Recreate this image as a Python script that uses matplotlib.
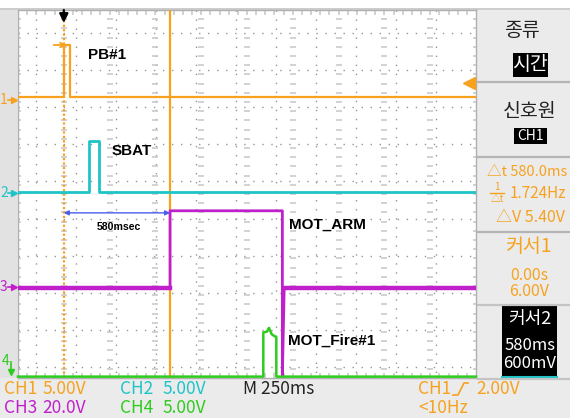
import matplotlib
matplotlib.use('Agg')
import matplotlib.pyplot as plt
from matplotlib.patches import Rectangle
from matplotlib.lines import Line2D
import numpy as np

# ---------------- data (time in s, volts) ----------------
ch1_t = [-0.25, 0.0, 0.0, 0.033, 0.033, 2.25]
ch1_v = [0.0, 0.0, 5.65, 5.65, 0.0, 0.0]
ch2_t = [-0.25, 0.137, 0.137, 0.19, 0.19, 2.25]
ch2_v = [0.0, 0.0, 5.6, 5.6, 0.0, 0.0]
ch3_t = [-0.25, 0.58, 0.58, 1.193, 1.193, 1.203, 2.25]
ch3_v = [0.0, 0.0, 33.5, 33.5, -38.5, 0.0, 0.0]
ch4_t = [-0.25, 1.089, 1.089, 1.11, 1.12, 1.135, 1.15, 1.16, 1.16, 2.25]
ch4_v = [0.0, 0.0, 4.8, 4.9, 5.3, 4.6, 4.4, 4.3, 0.0, 0.0]

volts_per_div = [5.0, 5.0, 20.0, 5.0]
offsets_div = [2.11, 0.04, -2.04, -3.97]
cursor_t = [0.0, 0.58]
labels = ["PB#1", "SBAT", "MOT_ARM", "MOT_Fire#1"]

ORANGE = '#f7a21e'
CYAN = '#1ec4c8'
MAGENTA = '#c020cc'
GREEN = '#2ecc1e'
BG = '#ebebeb'

W, H = 570, 418
fig = plt.figure(figsize=(5.7, 4.18), dpi=100)
fig.patch.set_facecolor(BG)

def fx(px):
    return px / W

def fy(py):
    return 1 - py / H

# top white strip
fig.add_artist(Rectangle((0, fy(8)), 1, 8 / H, transform=fig.transFigure,
                         facecolor='white', edgecolor='none', zorder=0))
fig.add_artist(Line2D([0, 1], [fy(8.5), fy(8.5)], transform=fig.transFigure,
                      color='#c8c8c8', lw=1.2, zorder=1))
# left grey strip
fig.add_artist(Rectangle((0, fy(378)), 17 / W, 370 / H, transform=fig.transFigure,
                         facecolor='#e2e2e2', edgecolor='none', zorder=0))

pos = [fx(18), fy(378), 458 / W, 368 / H]

# ---- grid overlay axes (pixel units) ----
gax = fig.add_axes(pos, zorder=1)
gax.set_facecolor('white')
gax.set_xlim(0, 458)
gax.set_ylim(368, 0)
gax.set_xticks([]); gax.set_yticks([])
for s in gax.spines.values():
    s.set_color('#b0b0b0'); s.set_linewidth(1)
for xc in np.arange(18, 458, 40):
    gax.plot([xc, xc], [0, 368], color='#959595', lw=1.0, ls=(0, (1, 5.5)), zorder=2)
for yc in np.arange(23, 368, 37.1):
    gax.plot([0, 458], [yc, yc], color='#959595', lw=1.0, ls=(0, (1, 5.5)), zorder=2)
div = 458 / 10
ys_small = np.arange(0, 368, 9.2)
for k in range(0, 11):
    gax.plot(np.full_like(ys_small, k * div), ys_small, ls='none', marker='_',
             ms=4, mew=1.1, color='#c6c6c6', zorder=2)
xs_small = np.arange(0, 458, 9.16)
for yk in [2, 366]:
    gax.plot(xs_small, np.full_like(xs_small, yk), ls='none',
             marker='|', ms=4, mew=1.1, color='#c6c6c6', zorder=2)

# ---- signal axes ----
ax = fig.add_axes(pos, zorder=2)
ax.patch.set_alpha(0)
ax.set_xlim(-0.25, 2.25)
ax.set_ylim(-4, 4)
ax.set_xticks([]); ax.set_yticks([])
for s in ax.spines.values():
    s.set_visible(False)

def trace(t, v, ch):
    return [offsets_div[ch] + vv / volts_per_div[ch] for vv in v]

ax.plot(ch1_t, trace(ch1_t, ch1_v, 0), color=ORANGE, lw=1.6, zorder=5)
ax.plot(ch2_t, trace(ch2_t, ch2_v, 1), color=CYAN, lw=2.0, zorder=5)
ax.plot(ch3_t, trace(ch3_t, ch3_v, 2), color=MAGENTA, lw=2.0, zorder=5)
ax.plot(ch3_t[:2], trace(ch3_t[:2], ch3_v[:2], 2), color=MAGENTA, lw=3.2, zorder=5)
ax.plot(ch3_t[-2:], trace(ch3_t[-2:], ch3_v[-2:], 2), color=MAGENTA, lw=3.2, zorder=5)
ax.plot(ch4_t, trace(ch4_t, ch4_v, 3), color=GREEN, lw=1.8, zorder=5, clip_on=False)

# cursors
ax.axvline(cursor_t[0], color=ORANGE, lw=1.6, ls=(0, (1, 1)), zorder=4)
ax.axvline(cursor_t[1], color=ORANGE, lw=1.6, zorder=4)

# trigger position arrow at top
ax.annotate('', xy=(cursor_t[0], 3.72), xytext=(cursor_t[0], 4.0),
            arrowprops=dict(arrowstyle='-|>', color='black', lw=1.6, mutation_scale=13,
                            shrinkA=0, shrinkB=0), zorder=6)
# PB#1 pointer arrow
ax.annotate('', xy=(0.015, 3.24), xytext=(-0.055, 3.24),
            arrowprops=dict(arrowstyle='->', color=ORANGE, lw=1.3, mutation_scale=8,
                            shrinkA=0, shrinkB=0), zorder=6)
# trigger level marker at right
ax.plot([2.21], [2.41], marker='<', ms=8, color=ORANGE, zorder=6, clip_on=False)
ax.plot([2.21, 2.245], [2.41, 2.41], color=ORANGE, lw=1.5, zorder=6)

# blue double arrow between cursors
ax.annotate('', xy=(cursor_t[1], -0.41), xytext=(cursor_t[0], -0.41),
            arrowprops=dict(arrowstyle='<|-|>', color='#4a5cf0', lw=1.0, mutation_scale=7,
                            shrinkA=0, shrinkB=0), zorder=6)

bold = dict(family='Liberation Sans', fontweight='bold', color='black', va='center', ha='left')
fig.text(fx(88), fy(55), labels[0], fontsize=11, **bold)
fig.text(fx(112), fy(151), labels[1], fontsize=11, **bold)
fig.text(fx(97), fy(227), "580msec", fontsize=7.6, **bold)
fig.text(fx(289), fy(225), labels[2], fontsize=11, **bold)
fig.text(fx(288), fy(341), labels[3], fontsize=11, **bold)

# channel markers on left
mk = dict(family='Noto Sans CJK KR', fontsize=10, va='center', ha='left')
for ch, (ypix, col) in enumerate([(100, ORANGE), (193, CYAN), (287, MAGENTA)]):
    fig.text(fx(0), fy(ypix), str(ch + 1), color=col, **mk)
    fig.add_artist(Line2D([fx(8), fx(14)], [fy(ypix), fy(ypix)], transform=fig.transFigure,
                          color=col, lw=1.2))
    fig.add_artist(Line2D([fx(14)], [fy(ypix)], transform=fig.transFigure, marker='>',
                          ms=4.5, color=col, lw=0))
fig.text(fx(2), fy(361), '4', color=GREEN, **mk)
fig.add_artist(Line2D([fx(11), fx(11)], [fy(362), fy(372)], transform=fig.transFigure,
                      color=GREEN, lw=1.2))
fig.add_artist(Line2D([fx(11)], [fy(372)], transform=fig.transFigure, marker='v',
                      ms=4.5, color=GREEN, lw=0))

# ---------------- right panel ----------------
KR = 'Noto Sans CJK KR'
def ptext(x, y, s, size, color, ha='center', weight='normal'):
    fig.text(fx(x), fy(y), s, fontsize=size, color=color, ha=ha, va='center',
             family=[KR, 'DejaVu Sans'], fontweight=weight)

def sep(y, col='#b4b4b4', lw=1.6):
    fig.add_artist(Line2D([fx(478), 1], [fy(y), fy(y)], transform=fig.transFigure,
                          color=col, lw=lw))

def box(x0, y0, x1, y1):
    fig.add_artist(Rectangle((fx(x0), fy(y1)), (x1 - x0) / W, (y1 - y0) / H,
                             transform=fig.transFigure, facecolor='black',
                             edgecolor='none'))

ptext(522, 31, '종류', 14, '#222222')
box(513, 53, 548, 77)
ptext(530, 65, '시간', 14, 'white')
sep(82)
ptext(530, 111, '신호원', 14, '#222222')
box(514, 128, 547, 144)
ptext(530, 136, 'CH1', 10, 'white')
sep(157)
ptext(487, 172, '△t 580.0ms', 10.5, ORANGE, ha='left')
ptext(497, 187, '1', 7, ORANGE)
fig.add_artist(Line2D([fx(490), fx(504)], [fy(193), fy(193)], transform=fig.transFigure,
                      color=ORANGE, lw=1))
ptext(497, 199, '△t', 7, ORANGE)
ptext(510, 193, '1.724Hz', 11, ORANGE, ha='left')
ptext(496, 217, '△V 5.40V', 11.5, ORANGE, ha='left')
sep(232)
ptext(529, 247, '커서1', 14, ORANGE)
ptext(529, 275, '0.00s', 11.5, ORANGE)
ptext(529, 291, '6.00V', 11.5, ORANGE)
sep(305, '#c4c4c4')
box(502, 306, 557, 378)
ptext(530, 319, '커서2', 13, 'white')
ptext(530, 346, '580ms', 12, 'white')
ptext(530, 364, '600mV', 12, 'white')
fig.add_artist(Line2D([fx(502), fx(557)], [fy(377), fy(377)], transform=fig.transFigure,
                      color=CYAN, lw=1.5))
sep(378.5, '#c4c4c4')

# ---------------- bottom readouts ----------------
def btext(x, y, s, color, size=12.5):
    fig.text(fx(x), fy(y), s, fontsize=size, color=color, ha='left', va='center',
             family=[KR, 'DejaVu Sans'])

btext(4, 389, 'CH1', ORANGE)
btext(42, 389, '5.00V', ORANGE)
btext(120, 389, 'CH2', CYAN)
btext(162, 389, '5.00V', CYAN)
btext(243, 389, 'M 250ms', '#222222')
btext(418, 389, 'CH1', ORANGE)
fig.add_artist(Line2D([fx(453), fx(458), fx(464), fx(468)],
                      [fy(395), fy(395), fy(383), fy(383)], transform=fig.transFigure,
                      color=ORANGE, lw=1.2))
btext(476, 389, '2.00V', ORANGE)
btext(4, 408, 'CH3', MAGENTA)
btext(42, 408, '20.0V', MAGENTA)
btext(120, 408, 'CH4', GREEN)
btext(162, 408, '5.00V', GREEN)
btext(418, 408, '<10Hz', ORANGE)

fig.savefig('out.png', dpi=100, facecolor=fig.get_facecolor())
